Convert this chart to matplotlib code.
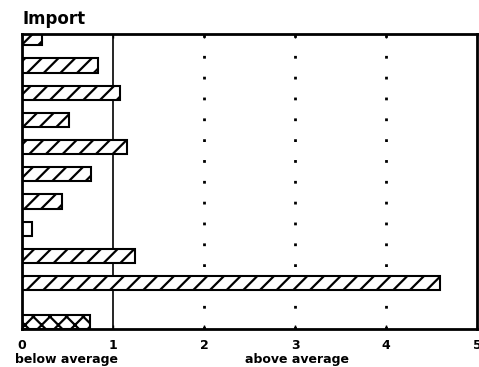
import numpy as np
import matplotlib
matplotlib.use("Agg")
from matplotlib import pyplot as plt

# bar values (unit = average)
values = [0.22, 0.84, 1.08, 0.52, 1.15, 0.76, 0.44, 0.11, 1.24, 4.59]
hatches = ['//', '//', '//', '//', '//', '//', '//', '', '//', '//']
total_value = 0.745
xticks = [0, 1, 2, 3, 4, 5]

plt.rcParams['font.family'] = 'DejaVu Sans'
plt.rcParams['font.weight'] = 'bold'
plt.rcParams['hatch.linewidth'] = 1.6

fig = plt.figure(figsize=(4.79, 3.67), dpi=100)
ax = fig.add_axes([0.046, 0.1035, 0.95, 0.804])

pos = np.arange(len(values))
for p, v, h in zip(pos, values, hatches):
    ax.barh(p, v, height=0.52, color='white', edgecolor='black',
            linewidth=1.5, hatch=h)
# separate bar at the bottom
ax.barh(len(values) + 0.43, total_value, height=0.52, color='white',
        edgecolor='black', linewidth=1.5, hatch='xx')

ax.axvline(1, color='black', lw=1.2, zorder=0)
for x in [2, 3, 4]:
    ax.axvline(x, color='black', lw=2, linestyle=(0, (1, 6.5)), zorder=0)

ax.set_xlim(0, 5)
ax.set_ylim(10.69, -0.16)
ax.set_xticks(xticks)
ax.set_xticklabels([str(t) for t in xticks], fontsize=9, fontweight='bold')
ax.set_yticks([])
ax.tick_params(axis='x', direction='in', length=3, width=1, top=True, pad=7)
for s in ax.spines.values():
    s.set_linewidth(2)

fig.text(0.046, 0.925, 'Import', fontsize=12, fontweight='bold', ha='left', va='bottom')
fig.text(0.138, 0.012, 'below average', fontsize=9, fontweight='bold', ha='center')
fig.text(0.62, 0.012, 'above average', fontsize=9, fontweight='bold', ha='center')

plt.savefig('out.png', dpi=100)
